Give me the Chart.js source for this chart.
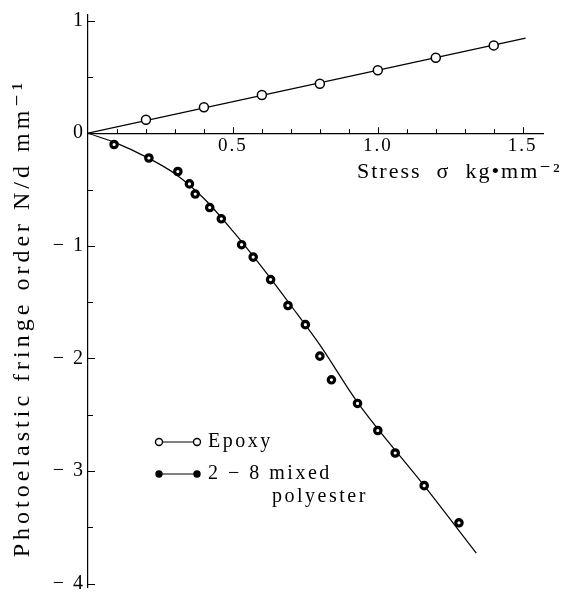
<!DOCTYPE html>
<html>
<head>
<meta charset="utf-8">
<script src="https://cdn.jsdelivr.net/npm/chart.js@4.4.1/dist/chart.umd.min.js"></script>
<style>
  html, body { margin: 0; padding: 0; background: #fff; }
  #wrap { width: 561px; height: 602px; position: relative; }
</style>
</head>
<body>
<div id="wrap"><canvas id="fringeChart"></canvas></div>
<script>
const epoxyStress = [0.2, 0.4, 0.6, 0.8, 1.0, 1.2, 1.4];
const epoxyFringe = [0.12, 0.23, 0.34, 0.44, 0.56, 0.67, 0.78];
const epoxyFitStress = [0, 1.51];
const epoxyFitFringe = [0, 0.845];

const polyStress = [0.09, 0.21, 0.31, 0.35, 0.37, 0.42, 0.46, 0.53, 0.57, 0.63, 0.69, 0.75, 0.80, 0.84, 0.93, 1.00, 1.06, 1.16, 1.28];
const polyFringe = [-0.10, -0.22, -0.34, -0.45, -0.54, -0.66, -0.76, -0.99, -1.10, -1.30, -1.53, -1.70, -1.98, -2.19, -2.40, -2.64, -2.84, -3.13, -3.46];
const polyFitStress = [0, 0.1, 0.2, 0.3, 0.4, 0.5, 0.6, 0.7, 0.8, 0.93, 1.16, 1.34];
const polyFitFringe = [0, -0.09, -0.21, -0.36, -0.58, -0.87, -1.19, -1.53, -1.88, -2.39, -3.13, -3.73];

const xTickLabels = [0.5, 1.0, 1.5];
const yTickLabels = [1, 0, -1, -2, -3, -4];
const xMinorTicks = [0.1, 0.2, 0.3, 0.4, 0.5, 0.6, 0.7, 0.8, 0.9, 1.0, 1.1, 1.2, 1.3, 1.4, 1.5];
const yMinorTicks = [1, 0.5, -0.5, -1, -1.5, -2, -2.5, -3, -3.5, -4];

const xTitle = "Stress  \u03c3  kg\u2022mm\u207b\u00b2";
const yTitle = "Photoelastic fringe order N/d mm\u207b\u00b9";
const legendLabels = ["Epoxy", ["2 \u2212 8 mixed", "polyester"]];

const serif = "'Liberation Serif', 'DejaVu Serif', serif";

function toPoints(xs, ys) {
  return xs.map((x, i) => ({ x, y: ys[i] }));
}

// the printed figure uses loose letter spacing everywhere
const textSpacing = {
  id: "textSpacing",
  beforeInit(chart) { chart.ctx.letterSpacing = "2px"; },
  beforeUpdate(chart) { chart.ctx.letterSpacing = "2px"; },
  beforeDraw(chart) { chart.ctx.letterSpacing = "2px"; },
};

const innerTicks = {
  id: "innerTicks",
  afterDraw(chart) {
    const { ctx, scales } = chart;
    const x = scales.x;
    const y = scales.y;
    const x0 = x.getPixelForValue(0);
    const y0 = y.getPixelForValue(0);
    ctx.save();
    ctx.strokeStyle = "#000";
    ctx.lineWidth = 1;
    ctx.beginPath();
    xMinorTicks.forEach((v) => {
      const px = Math.round(x.getPixelForValue(v)) + 0.5;
      const len = xTickLabels.includes(v) ? 6 : 4;
      ctx.moveTo(px, y0);
      ctx.lineTo(px, y0 - len);
    });
    yMinorTicks.forEach((v) => {
      const py = Math.round(y.getPixelForValue(v)) + 0.5;
      const len = Number.isInteger(v) ? 7 : 5;
      ctx.moveTo(x0, py);
      ctx.lineTo(x0 + len, py);
    });
    ctx.stroke();
    ctx.restore();
  },
};

const axisTitles = {
  id: "axisTitles",
  afterDraw(chart) {
    const { ctx } = chart;
    ctx.save();
    ctx.fillStyle = "#000";
    ctx.textBaseline = "middle";

    ctx.letterSpacing = "2px";
    ctx.font = "22px " + serif;
    ctx.textAlign = "left";
    ctx.fillText(xTitle, 357, 172);

    ctx.letterSpacing = "4px";
    ctx.font = "24px " + serif;
    ctx.textAlign = "center";
    ctx.translate(23, 318);
    ctx.rotate(-Math.PI / 2);
    ctx.fillText(yTitle, 0, 0);
    ctx.restore();
  },
};

const customLegend = {
  id: "customLegend",
  afterDraw(chart) {
    const { ctx } = chart;
    ctx.save();
    ctx.strokeStyle = "#000";
    ctx.fillStyle = "#000";
    ctx.font = "20px " + serif;
    ctx.letterSpacing = "2.5px";
    ctx.textBaseline = "middle";
    ctx.textAlign = "left";

    const rows = [
      { y: 442, open: true, text: [legendLabels[0]] },
      { y: 474, open: false, text: legendLabels[1] },
    ];
    rows.forEach((r) => {
      ctx.lineWidth = 1.2;
      ctx.beginPath();
      ctx.moveTo(159, r.y);
      ctx.lineTo(197, r.y);
      ctx.stroke();
      [159, 197].forEach((cx) => {
        ctx.beginPath();
        ctx.arc(cx, r.y, r.open ? 3.5 : 3, 0, Math.PI * 2);
        ctx.fillStyle = r.open ? "#fff" : "#000";
        ctx.fill();
        ctx.lineWidth = 1.4;
        ctx.stroke();
      });
      ctx.fillStyle = "#000";
      ctx.fillText(r.text[0], 208, r.y);
      if (r.text[1]) ctx.fillText(r.text[1], 272, r.y + 23);
    });
    ctx.restore();
  },
};

const ctx = document.getElementById("fringeChart");

new Chart(ctx, {
  type: "scatter",
  data: {
    datasets: [
      {
        label: "Epoxy",
        data: toPoints(epoxyStress, epoxyFringe),
        showLine: false,
        pointRadius: 4.5,
        pointBorderWidth: 1.5,
        pointBorderColor: "#000",
        pointBackgroundColor: "#fff",
        order: 0,
      },
      {
        label: "2 - 8 mixed polyester",
        data: toPoints(polyStress, polyFringe),
        showLine: false,
        pointRadius: 3.2,
        pointBorderWidth: 3.2,
        pointBorderColor: "#000",
        pointBackgroundColor: "#fff",
        order: 0,
      },
      {
        label: "Epoxy fit",
        data: toPoints(epoxyFitStress, epoxyFitFringe),
        showLine: true,
        borderColor: "#000",
        borderWidth: 1.2,
        pointRadius: 0,
        order: 1,
      },
      {
        label: "Polyester fit",
        data: toPoints(polyFitStress, polyFitFringe),
        showLine: true,
        borderColor: "#000",
        borderWidth: 1.2,
        pointRadius: 0,
        cubicInterpolationMode: "monotone",
        order: 1,
      },
    ],
  },
  options: {
    responsive: true,
    maintainAspectRatio: false,
    animation: false,
    layout: { padding: { top: 12, right: 18, bottom: 6, left: 0 } },
    plugins: { legend: { display: false }, tooltip: { enabled: false } },
    scales: {
      x: {
        type: "linear",
        position: { y: 0 },
        min: 0,
        max: 1.57,
        afterBuildTicks: (s) => { s.ticks = xTickLabels.map((v) => ({ value: v })); },
        grid: { display: false, drawTicks: false },
        border: { display: true, color: "#000", width: 1.2 },
        ticks: {
          color: "#000",
          font: { family: serif, size: 19 },
          padding: 1,
          maxRotation: 0,
          callback: (v) => Number(v).toFixed(1),
        },
        title: { display: false },
      },
      y: {
        type: "linear",
        position: "left",
        min: -4.03,
        max: 1.05,
        afterBuildTicks: (s) => { s.ticks = yTickLabels.map((v) => ({ value: v })); },
        afterFit: (s) => { s.width = 88; },
        grid: { display: false, drawTicks: false },
        border: { display: true, color: "#000", width: 1.2 },
        ticks: {
          color: "#000",
          font: { family: serif, size: 20 },
          padding: 3,
          callback: (v) => (v < 0 ? "\u2212 " + -v : String(v)),
        },
        title: { display: false },
      },
    },
  },
  plugins: [textSpacing, innerTicks, axisTitles, customLegend],
});
</script>
</body>
</html>
